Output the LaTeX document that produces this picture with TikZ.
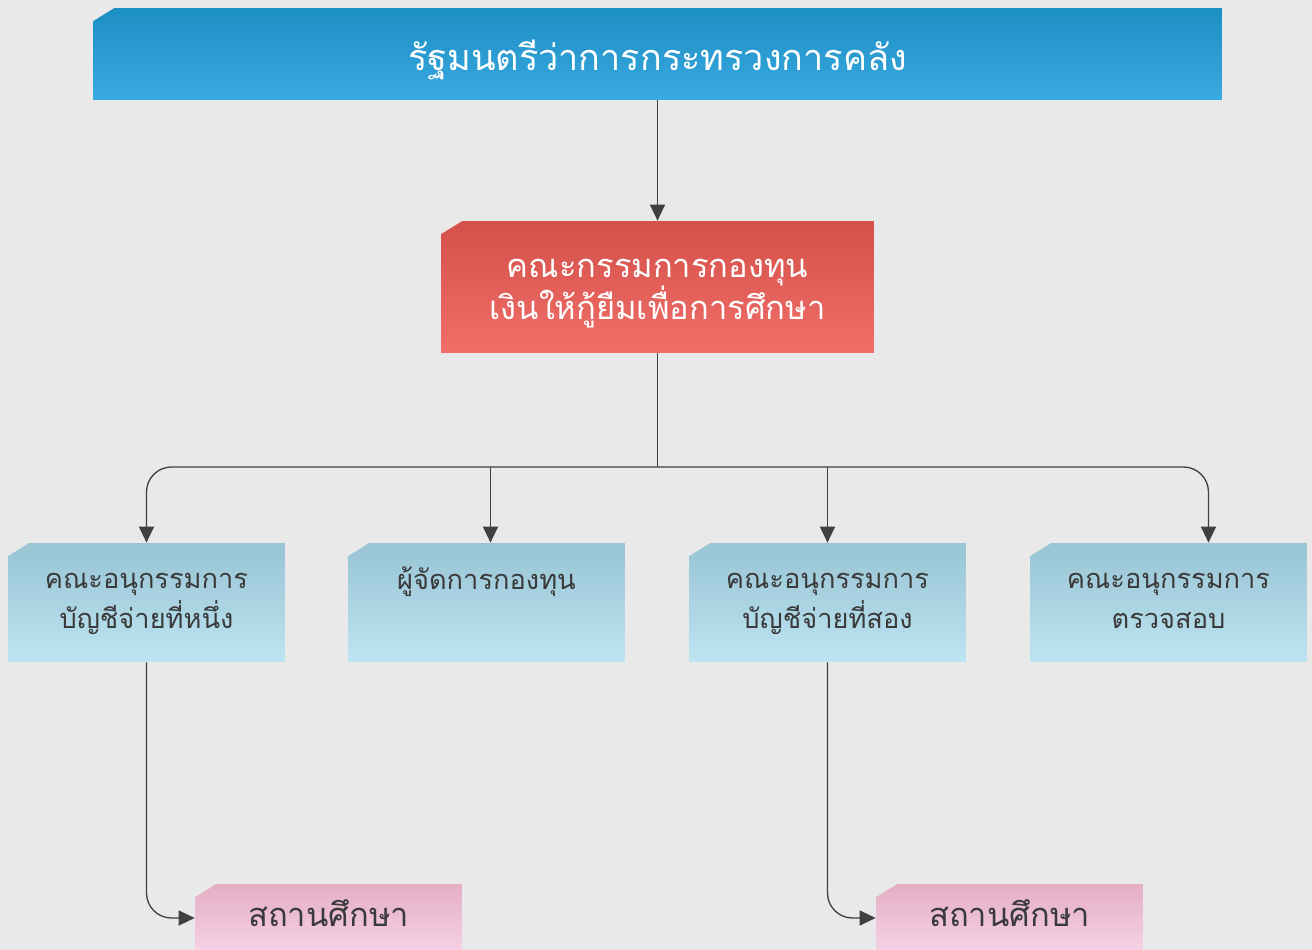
\documentclass[tikz,border=0pt]{standalone}
\usepackage{fontspec}
\newfontfamily\thaifont[Script=Thai]{Loma}
\usetikzlibrary{arrows.meta}
\definecolor{paper}{HTML}{E9E9E9}
\definecolor{linec}{HTML}{404040}
\definecolor{darktext}{HTML}{3A3A3A}
\definecolor{blueA}{HTML}{1B8EC2}
\definecolor{blueB}{HTML}{3AAAE2}
\definecolor{redA}{HTML}{D4504A}
\definecolor{redB}{HTML}{F06F68}
\definecolor{skyA}{HTML}{98C4D4}
\definecolor{skyB}{HTML}{BDE4F1}
\definecolor{pinkA}{HTML}{E3AEC4}
\definecolor{pinkB}{HTML}{F7D2E6}
\tikzset{box/.style={rectangle, align=center, inner sep=0pt,
        path picture={\fill[paper] (path picture bounding box.north west)
            -- ++(0.42cm,0) -- ++(-0.42cm,-0.26cm) -- cycle;}},
    topbox/.style={box, minimum width=22.58cm, minimum height=1.84cm,
        top color=blueA, middle color=blueB, bottom color=blueB, text=white,
        text height=0.8cm, text depth=0.12cm,
        font=\thaifont\fontsize{20.5}{25}\selectfont},
    boardbox/.style={box, minimum width=8.66cm, minimum height=2.64cm,
        top color=redA, middle color=redB, bottom color=redB, text=white,
        text height=1.5cm, text depth=0.18cm,
        font=\thaifont\fontsize{18.6}{24}\selectfont},
    subbox/.style={box, minimum width=5.54cm, minimum height=2.38cm,
        top color=skyA, middle color=skyB, bottom color=skyB, text=darktext,
        text height=1.16cm, text depth=0.12cm,
        font=\thaifont\fontsize{15.5}{22.8}\selectfont},
    oneline/.style={text height=0.18cm, text depth=0.72cm},
    schoolbox/.style={box, minimum width=5.34cm, minimum height=1.36cm,
        top color=pinkA, middle color=pinkB, bottom color=pinkB, text=darktext,
        text height=0.44cm, text depth=0.12cm,
        font=\thaifont\fontsize{18.6}{24}\selectfont},
    wire/.style={draw=linec, line width=0.75pt},
    link/.style={wire, -{Triangle[width=0.3cm,length=0.32cm]}}}
\begin{document}
\begin{tikzpicture}[x=0.02cm,y=-0.02cm]
\useasboundingbox (0,0) rectangle (1312,950);
\clip (0,0) rectangle (1312,950);
\fill[paper] (0,0) rectangle (1312,950);
% boxes
\node[topbox] (minister) at (657.5,54) {รัฐมนตรีว่าการกระทรวงการคลัง};
\node[boardbox] (board) at (657.5,287) {คณะกรรมการกองทุน\\เงินให้กู้ยืมเพื่อการศึกษา};
\node[subbox] (pay1) at (146.5,602.5) {คณะอนุกรรมการ\\บัญชีจ่ายที่หนึ่ง};
\node[subbox,oneline] (manager) at (486.5,602.5) {ผู้จัดการกองทุน};
\node[subbox] (pay2) at (827.5,602.5) {คณะอนุกรรมการ\\บัญชีจ่ายที่สอง};
\node[subbox] (audit) at (1168.5,602.5) {คณะอนุกรรมการ\\ตรวจสอบ};
\node[schoolbox] (school1) at (328.5,918) {สถานศึกษา};
\node[schoolbox] (school2) at (1009.5,918) {สถานศึกษา};
\coordinate (bus) at (657.5,467);
\coordinate (mgrtop) at ([xshift=0.08cm]manager.north);
\coordinate (audtop) at ([xshift=0.8cm]audit.north);
% links
\draw[link] (minister) -- (board);
\draw[wire] (board) -- (bus);
\draw[link,rounded corners=0.5cm] (bus) -| (pay1);
\draw[link] (bus -| mgrtop) -- (mgrtop);
\draw[link] (bus -| pay2.north) -- (pay2.north);
\draw[link,rounded corners=0.5cm] (bus) -| (audtop);
\draw[link,rounded corners=0.5cm] (pay1) |- (school1);
\draw[link,rounded corners=0.5cm] (pay2) |- (school2);
\end{tikzpicture}
\end{document}
